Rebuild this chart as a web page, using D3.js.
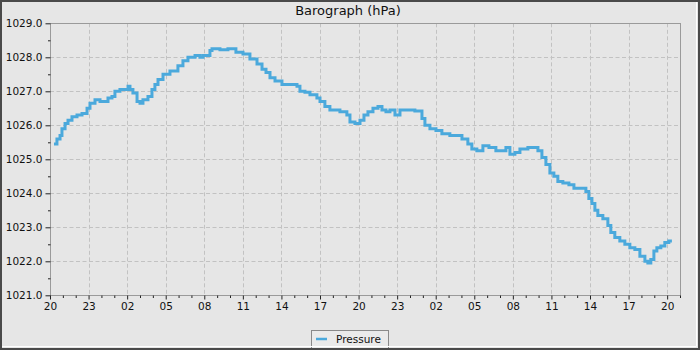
<!DOCTYPE html>
<html><head><meta charset="utf-8">
<script src="https://cdn.jsdelivr.net/npm/d3@7"></script>
<style>
html,body{margin:0;padding:0;background:#e6e6e6;}
svg{display:block;font-family:"DejaVu Sans",sans-serif;}
</style></head>
<body>
<svg id="chart" width="700" height="350"></svg>
<script>
// hours since 20:00 of first day
const hours = [0.31,0.54,0.78,0.93,1.17,1.40,1.71,2.10,2.49,2.88,3.11,3.50,3.89,4.51,4.82,5.05,5.44,6.07,6.22,6.45,6.77,7.00,7.23,7.62,7.93,8.16,8.40,8.79,9.33,9.95,10.34,10.73,11.28,11.66,11.90,12.44,12.60,13.22,13.84,14.46,15.01,15.55,16.10,16.49,16.80,17.11,17.50,18.04,18.66,19.21,19.44,19.83,20.22,20.76,21.00,21.38,21.77,22.55,23.09,23.33,23.72,24.11,24.42,24.73,25.12,25.51,25.82,26.13,26.44,26.83,27.22,27.76,28.38,28.93,29.16,29.55,30.02,30.48,31.10,31.57,32.04,32.50,32.81,33.20,33.67,34.14,34.68,35.23,35.46,35.77,36.16,36.55,37.17,37.71,37.95,38.26,38.57,38.88,39.19,39.50,39.89,40.36,40.75,41.21,41.68,41.91,42.15,42.38,42.61,43.00,43.39,43.62,43.93,44.32,44.71,45.10,45.49,45.88,46.27,46.50,46.73,46.97,47.20,47.51,47.82,48.13,48.37];
const pressure = [1025.45,1025.6,1025.7,1025.9,1026.05,1026.15,1026.25,1026.3,1026.35,1026.5,1026.65,1026.75,1026.7,1026.8,1026.85,1027.0,1027.05,1027.15,1027.05,1026.95,1026.7,1026.65,1026.75,1026.85,1027.05,1027.2,1027.35,1027.5,1027.6,1027.75,1027.9,1028.0,1028.05,1028.0,1028.05,1028.2,1028.25,1028.22,1028.25,1028.15,1028.1,1027.95,1027.8,1027.65,1027.55,1027.4,1027.3,1027.2,1027.2,1027.15,1027.0,1026.97,1026.9,1026.8,1026.7,1026.55,1026.45,1026.4,1026.3,1026.1,1026.05,1026.15,1026.3,1026.4,1026.5,1026.55,1026.45,1026.4,1026.45,1026.3,1026.45,1026.45,1026.42,1026.2,1026.0,1025.9,1025.85,1025.75,1025.7,1025.7,1025.6,1025.45,1025.3,1025.25,1025.4,1025.35,1025.25,1025.25,1025.35,1025.15,1025.2,1025.3,1025.35,1025.35,1025.25,1025.05,1024.85,1024.6,1024.5,1024.35,1024.3,1024.25,1024.15,1024.15,1024.05,1023.85,1023.7,1023.5,1023.35,1023.25,1023.05,1022.85,1022.7,1022.6,1022.5,1022.4,1022.35,1022.15,1022.0,1021.95,1022.05,1022.3,1022.4,1022.45,1022.55,1022.6,1022.6];
const xTickHours = [0,3,6,9,12,15,18,21,24,27,30,33,36,39,42,45,48];
const xTickLabels = ["20","23","02","05","08","11","14","17","20","23","02","05","08","11","14","17","20"];
const yTicks = [1021,1022,1023,1024,1025,1026,1027,1028,1029];
const yMinor = [1021.5,1022.5,1023.5,1024.5,1025.5,1026.5,1027.5,1028.5];
const title = "Barograph (hPa)";
const seriesName = "Pressure";

const svg = d3.select("#chart");
const W = 700, H = 350;
const L = 50, R = 680, T = 23.3, B = 295.3;
const x = d3.scaleLinear().domain([0, 49]).range([L, R]);
const y = d3.scaleLinear().domain([1021, 1029]).range([B, T]);
const lineColor = "#4ba9dc";

svg.append("rect").attr("width", W).attr("height", H).attr("fill", "#e6e6e6");

// grid
svg.append("g").selectAll("line").data(yTicks.filter(v => v > 1021 && v < 1029)).join("line")
  .attr("x1", L).attr("x2", R).attr("y1", d => Math.round(y(d)) + 0.5).attr("y2", d => Math.round(y(d)) + 0.5)
  .attr("stroke", "#c2c2c2").attr("stroke-dasharray", "4,2.5");
svg.append("g").selectAll("line").data(xTickHours.filter(h => h > 0)).join("line")
  .attr("x1", d => Math.round(x(d)) + 0.5).attr("x2", d => Math.round(x(d)) + 0.5).attr("y1", T).attr("y2", B)
  .attr("stroke", "#c2c2c2").attr("stroke-dasharray", "4,2.5");

// line
const data = hours.map((h, i) => ({h, v: pressure[i]}));
svg.append("path").datum(data)
  .attr("fill", "none").attr("stroke", lineColor).attr("stroke-width", 3)
  .attr("d", d3.line().x(d => x(d.h)).y(d => y(d.v)).curve(d3.curveStepAfter));

// frame
svg.append("rect").attr("x", L + 0.5).attr("y", Math.round(T) + 0.5)
  .attr("width", R - L).attr("height", Math.round(B) - Math.round(T))
  .attr("fill", "none").attr("stroke", "#9a9a9a");

// y axis
const yAxis = d3.axisLeft(y).tickValues(yTicks).tickFormat(d3.format(".1f")).tickSize(5).tickPadding(3);
const gy = svg.append("g").attr("transform", `translate(${L + 0.5},0)`).call(yAxis);
gy.select(".domain").remove();
gy.selectAll(".tick line").attr("stroke", "#222");
gy.selectAll(".tick text").attr("font-size", "10.5px").attr("fill", "#111").attr("font-family", "DejaVu Sans");
const gym = svg.append("g").attr("transform", `translate(${L + 0.5},0)`)
  .call(d3.axisLeft(y).tickValues(yMinor).tickSize(2.5).tickFormat(""));
gym.select(".domain").remove();
gym.selectAll(".tick line").attr("stroke", "#222");

// x axis
const gx = svg.append("g").attr("transform", `translate(0,${Math.round(B) + 0.5})`)
  .call(d3.axisBottom(x).tickValues(xTickHours).tickFormat((d, i) => xTickLabels[i]).tickSize(4).tickPadding(3));
gx.select(".domain").remove();
gx.selectAll(".tick line").attr("stroke", "#222");
gx.selectAll(".tick text").attr("font-size", "10.5px").attr("fill", "#111").attr("font-family", "DejaVu Sans");
const minorH = d3.range(0, 50).filter(h => h % 3 !== 0);
const gxm = svg.append("g").attr("transform", `translate(0,${Math.round(B) + 0.5})`)
  .call(d3.axisBottom(x).tickValues(minorH).tickSize(2.5).tickFormat(""));
gxm.select(".domain").remove();
gxm.selectAll(".tick line").attr("stroke", "#222");

// title
svg.append("text").attr("x", 348).attr("y", 15).attr("text-anchor", "middle")
  .attr("font-size", "13px").attr("fill", "#111").text(title);

// legend
const lg = svg.append("g");
lg.append("rect").attr("x", 311.5).attr("y", 330.5).attr("width", 77).attr("height", 18)
  .attr("fill", "#eaeaea").attr("stroke", "#8a8a8a");
lg.append("line").attr("x1", 316).attr("x2", 327).attr("y1", 339).attr("y2", 339)
  .attr("stroke", lineColor).attr("stroke-width", 2.5);
lg.append("text").attr("x", 336).attr("y", 342.5).attr("font-size", "10.5px").attr("fill", "#111").text(seriesName);

// outer border
svg.append("rect").attr("x", 1).attr("y", 1).attr("width", W - 2).attr("height", H - 2)
  .attr("fill", "none").attr("stroke", "#4a4a4a").attr("stroke-width", 2);
svg.append("path").attr("d", `M${W - 3.5},2 V${H - 3.5} H2`).attr("fill", "none").attr("stroke", "#ffffff").attr("stroke-width", 1);
</script>
</body></html>
